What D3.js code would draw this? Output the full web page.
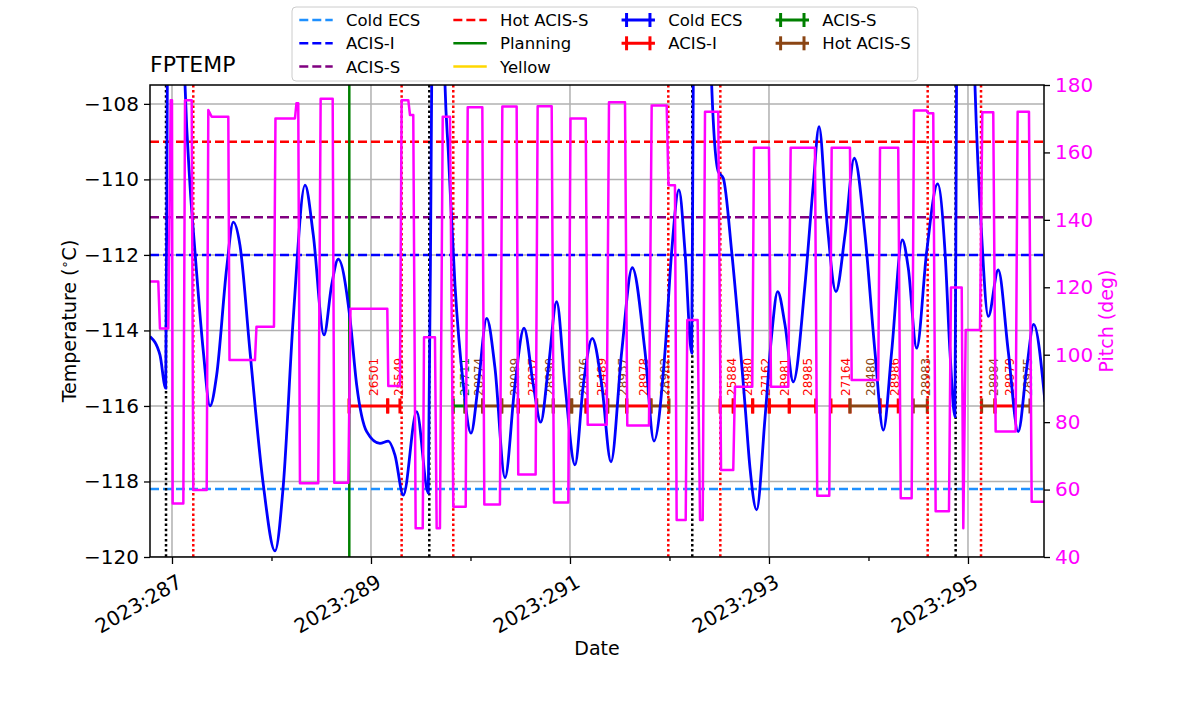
<!DOCTYPE html>
<html lang="en">
<head>
<meta charset="utf-8">
<title>FPTEMP</title>
<script src="https://d3js.org/d3.v7.min.js"></script>
<style>
  body { margin: 0; background: #fff; }
  svg, svg text { font-family: "DejaVu Sans", sans-serif; }
</style>
</head>
<body>
<script>
// ---- data ----
const dateTicks = [287, 289, 291, 293, 295];
const dateMinor = [288, 290, 292, 294];
const tempTicks = [-120, -118, -116, -114, -112, -110, -108];
const pitchTicks = [40, 60, 80, 100, 120, 140, 160, 180];

// FPTEMP model (day of 2023, degC)
const tempTimes = [286.779, 286.879, 286.937, 286.953, 287.04, 287.131, 287.181, 287.231, 287.315, 287.382,
  287.449, 287.550, 287.616, 287.683, 287.784, 287.918, 288.035, 288.119, 288.219, 288.337,
  288.420, 288.528, 288.605, 288.671, 288.789, 288.856, 288.957, 289.090, 289.174, 289.241,
  289.325, 289.459, 289.576, 289.610, 289.673, 289.744, 289.777, 289.844, 289.928, 290.005,
  290.078, 290.163, 290.246, 290.347, 290.447, 290.538, 290.631, 290.706, 290.782, 290.866,
  290.950, 291.050, 291.134, 291.224, 291.319, 291.412, 291.520, 291.626, 291.754, 291.844,
  291.955, 292.022, 292.095, 292.156, 292.223, 292.239, 292.33, 292.424, 292.490, 292.541,
  292.625, 292.759, 292.809, 292.876, 292.960, 293.027, 293.087, 293.161, 293.244, 293.362,
  293.445, 293.503, 293.580, 293.673, 293.764, 293.857, 293.965, 294.065, 294.149, 294.233,
  294.340, 294.400, 294.484, 294.585, 294.695, 294.769, 294.819, 294.869, 294.885, 294.97,
  295.070, 295.137, 295.204, 295.304, 295.405, 295.505, 295.590, 295.660, 295.774];
const tempValues = [-114.16, -114.65, -115.53, -107.5, -95, -107.5, -110.15, -111.91, -114.56, -116.0,
  -115.18, -112.34, -111.13, -111.74, -114.56, -118.09, -119.84, -118.09, -113.67, -110.15,
  -111.47, -114.12, -112.79, -112.11, -113.68, -115.44, -116.68, -116.99, -116.93, -117.30,
  -118.36, -116.15, -118.31, -107.5, -95, -107.5, -109.26, -112.79, -115.44, -116.72,
  -115.44, -113.68, -114.99, -117.90, -115.44, -113.94, -115.44, -116.43, -115.0, -113.24,
  -115.44, -117.56, -115.44, -114.21, -115.44, -117.48, -114.56, -112.34, -114.56, -116.93,
  -114.56, -111.91, -110.28, -111.91, -114.60, -107.5, -95, -107.5, -109.79, -109.97,
  -111.91, -115.97, -117.64, -118.75, -116.32, -114.12, -112.97, -113.85, -115.36, -112.79,
  -110.15, -108.60, -111.03, -112.97, -111.47, -109.44, -111.47, -114.56, -116.64, -114.56,
  -111.60, -112.35, -114.47, -111.91, -110.12, -111.91, -114.56, -116.28, -107.5, -95,
  -107.5, -111.47, -113.63, -112.40, -114.56, -116.68, -115.0, -113.84, -115.89];

// Pitch (deg)
const pitchTimes = [286.779, 286.862, 286.879, 286.963, 286.987, 287.000, 287.007, 287.114, 287.131, 287.198,
  287.214, 287.349, 287.365, 287.399, 287.566, 287.578, 287.834, 287.849, 288.025, 288.040,
  288.236, 288.251, 288.269, 288.286, 288.470, 288.494, 288.615, 288.631, 288.772, 288.794,
  289.164, 289.174, 289.291, 289.308, 289.375, 289.392, 289.425, 289.449, 289.520, 289.533,
  289.643, 289.660, 289.693, 289.721, 289.794, 289.827, 289.952, 289.972, 290.119, 290.139,
  290.296, 290.320, 290.464, 290.480, 290.655, 290.675, 290.816, 290.839, 290.983, 291.005,
  291.158, 291.178, 291.369, 291.392, 291.553, 291.576, 291.794, 291.821, 291.972, 291.990,
  292.055, 292.072, 292.163, 292.179, 292.283, 292.307, 292.334, 292.357, 292.490, 292.518,
  292.641, 292.658, 292.832, 292.849, 293.000, 293.020, 293.194, 293.218, 293.462, 293.485,
  293.606, 293.630, 293.814, 293.831, 294.098, 294.116, 294.299, 294.324, 294.434, 294.457,
  294.585, 294.601, 294.651, 294.675, 294.809, 294.829, 294.937, 294.953, 294.977, 295.121,
  295.144, 295.254, 295.278, 295.479, 295.499, 295.613, 295.640, 295.774];
const pitchValues = [121.7, 121.7, 107.8, 107.8, 175.5, 175.5, 55.9, 55.9, 175.5, 175.5,
  59.9, 59.9, 172.6, 170.6, 170.6, 98.4, 98.4, 108.3, 108.3, 170.1,
  170.1, 174.6, 174.6, 61.9, 61.9, 175.9, 175.9, 62.0, 62.0, 113.6,
  113.6, 90.7, 90.7, 175.5, 175.5, 171.1, 171.1, 48.5, 48.5, 105.2,
  105.2, 48.5, 48.5, 170.6, 170.6, 54.9, 54.9, 173.4, 173.4, 55.6,
  55.6, 173.6, 173.6, 64.5, 64.5, 173.7, 173.7, 56.2, 56.2, 170.1,
  170.1, 79.2, 79.2, 174.9, 174.9, 79.0, 79.0, 173.9, 173.9, 150.3,
  150.3, 51.0, 51.0, 110.3, 110.3, 51.0, 51.0, 172.1, 172.1, 65.8,
  65.8, 90.5, 90.5, 161.4, 161.4, 90.5, 90.5, 161.4, 161.4, 58.2,
  58.2, 161.4, 161.4, 92.5, 92.5, 161.4, 161.4, 57.4, 57.4, 172.4,
  172.4, 171.6, 171.6, 53.6, 53.6, 119.9, 119.9, 48.5, 107.3, 107.3,
  171.9, 171.9, 77.2, 77.2, 172.1, 172.1, 56.4, 56.4];

// observation intervals
const obsStart = [288.779, 289.168, 289.827, 289.945, 290.123, 290.314, 290.480, 290.665, 290.832, 291.017,
  291.161, 291.379, 291.570, 291.814, 292.508, 292.641, 292.836, 293.003, 293.204, 293.623,
  293.814, 294.116, 294.450, 295.137, 295.271, 295.472];
const obsStop = [289.168, 289.291, 289.945, 290.123, 290.314, 290.480, 290.665, 290.832, 291.017, 291.161,
  291.379, 291.570, 291.814, 291.995, 292.641, 292.836, 293.003, 293.204, 293.469, 293.814,
  294.116, 294.299, 294.591, 295.271, 295.472, 295.623];
const obsIds = ["26501", "26549", "27711", "28974", "", "28089", "27037", "28990", "", "28976",
  "25489", "28937", "28978", "28982", "25884", "28980", "27162", "28981", "28985", "27164",
  "28480", "28986", "28983", "28984", "28979", "28975"];
const obsModes = ["ACIS-I", "ACIS-I", "ACIS-S", "Hot ACIS-S", "Hot ACIS-S", "Hot ACIS-S", "ACIS-I", "Hot ACIS-S", "Hot ACIS-S", "Hot ACIS-S",
  "ACIS-I", "Hot ACIS-S", "ACIS-I", "Hot ACIS-S", "ACIS-I", "ACIS-I", "ACIS-I", "ACIS-I", "ACIS-I", "ACIS-I",
  "Hot ACIS-S", "ACIS-I", "Hot ACIS-S", "Hot ACIS-S", "ACIS-I", "Hot ACIS-S"];
const obsLevel = -116;

// limits
const limitNames = ["Cold ECS", "ACIS-I", "ACIS-S", "Hot ACIS-S"];
const limitValues = [-118.2, -112, -111, -109];

const planningTime = 288.782;
const blackTimes = [286.940, 289.586, 292.229, 294.876];
const redTimes = [287.214, 289.308, 289.827, 291.988, 292.511, 294.595, 295.131];

// ---- styles ----
const FONT = "DejaVu Sans";
const TICK_FS = 20;
const limitColor = { "Cold ECS": "#1e90ff", "ACIS-I": "#0000ff", "ACIS-S": "#800080", "Hot ACIS-S": "#ff0000" };
const obsColor = { "Cold ECS": "#0000ff", "ACIS-I": "#ff0000", "ACIS-S": "#008000", "Hot ACIS-S": "#8b4513" };

const W = 1200, H = 714;
const m = { left: 150, right: 1044, top: 85, bottom: 557 };

const svg = d3.select("body").append("svg").attr("width", W).attr("height", H)
  .attr("font-family", FONT);

const x = d3.scaleLinear().domain([286.779, 295.764]).range([m.left, m.right]);
const y = d3.scaleLinear().domain([-120, -107.5]).range([m.bottom, m.top]);
const yp = d3.scaleLinear().domain([40, 180]).range([m.bottom, m.top]);

svg.append("clipPath").attr("id", "plot")
  .append("rect").attr("x", m.left).attr("y", m.top)
  .attr("width", m.right - m.left).attr("height", m.bottom - m.top);

const plot = svg.append("g").attr("clip-path", "url(#plot)");

// grid
plot.selectAll(".gx").data(dateTicks).enter().append("line")
  .attr("x1", d => x(d)).attr("x2", d => x(d)).attr("y1", m.top).attr("y2", m.bottom)
  .attr("stroke", "#b0b0b0").attr("stroke-width", 1.5);
plot.selectAll(".gy").data(tempTicks).enter().append("line")
  .attr("x1", m.left).attr("x2", m.right).attr("y1", d => y(d)).attr("y2", d => y(d))
  .attr("stroke", "#b0b0b0").attr("stroke-width", 1.5);

// limit lines
plot.selectAll(".lim").data(limitNames).enter().append("line")
  .attr("x1", m.left).attr("x2", m.right)
  .attr("y1", (d, i) => y(limitValues[i])).attr("y2", (d, i) => y(limitValues[i]))
  .attr("stroke", d => limitColor[d]).attr("stroke-width", 2.5)
  .attr("stroke-dasharray", "9,4");

// observation segments
const obs = plot.append("g");
obsIds.forEach((id, i) => {
  const c = obsColor[obsModes[i]];
  const x0 = x(obsStart[i]), x1 = x(obsStop[i]), yy = y(obsLevel);
  obs.append("line").attr("x1", x0).attr("x2", x1).attr("y1", yy).attr("y2", yy)
    .attr("stroke", c).attr("stroke-width", 3);
  [x0, x1].forEach(xx => obs.append("line").attr("x1", xx).attr("x2", xx)
    .attr("y1", yy - 7.5).attr("y2", yy + 7.5).attr("stroke", c).attr("stroke-width", 3));
  if (id) {
    const xm = (x0 + x1) / 2 + 9.5;
    obs.append("text").attr("transform", `translate(${xm},396) rotate(-90)`)
      .attr("font-size", 12).attr("fill", c).text(id);
  }
});

// vertical markers
plot.selectAll(".vb").data(blackTimes).enter().append("line")
  .attr("x1", d => x(d)).attr("x2", d => x(d)).attr("y1", m.top).attr("y2", m.bottom)
  .attr("stroke", "#000").attr("stroke-width", 2.5).attr("stroke-dasharray", "2.5,2.6");
plot.selectAll(".vr").data(redTimes).enter().append("line")
  .attr("x1", d => x(d)).attr("x2", d => x(d)).attr("y1", m.top).attr("y2", m.bottom)
  .attr("stroke", "#ff0000").attr("stroke-width", 2.5).attr("stroke-dasharray", "2.5,2.6");
plot.append("line")
  .attr("x1", x(planningTime)).attr("x2", x(planningTime)).attr("y1", m.top).attr("y2", m.bottom)
  .attr("stroke", "#008000").attr("stroke-width", 2.5);

// temperature
const tempLine = d3.line().x(d => x(d[0])).y(d => y(d[1])).curve(d3.curveMonotoneX);
plot.append("path").datum(tempTimes.map((t, i) => [t, tempValues[i]]))
  .attr("d", tempLine).attr("fill", "none").attr("stroke", "#0000ff").attr("stroke-width", 2.8);

// pitch (twin axis)
const pitchLine = d3.line().x(d => x(d[0])).y(d => yp(d[1]));
plot.append("path").datum(pitchTimes.map((t, i) => [t, pitchValues[i]]))
  .attr("d", pitchLine).attr("fill", "none").attr("stroke", "#ff00ff").attr("stroke-width", 2.5)
  .attr("stroke-linejoin", "round");

// frame
svg.append("rect").attr("x", m.left).attr("y", m.top)
  .attr("width", m.right - m.left).attr("height", m.bottom - m.top)
  .attr("fill", "none").attr("stroke", "#000").attr("stroke-width", 1.5);

// axes
const fmtMinus = d => String(d).replace("-", "\u2212");

const xAxis = svg.append("g").attr("transform", `translate(0,${m.bottom})`)
  .call(d3.axisBottom(x).tickValues(dateTicks).tickSize(7).tickFormat(d => "2023:" + d));
xAxis.selectAll("text")
  .attr("text-anchor", "end").attr("dy", null).attr("y", null)
  .attr("transform", "translate(11,29) rotate(-30)");
svg.append("g").attr("transform", `translate(0,${m.bottom})`)
  .call(d3.axisBottom(x).tickValues(dateMinor).tickSize(4).tickFormat(""));

const yAxis = svg.append("g").attr("transform", `translate(${m.left},0)`)
  .call(d3.axisLeft(y).tickValues(tempTicks).tickSize(6).tickPadding(5).tickFormat(fmtMinus));

const ypAxis = svg.append("g").attr("transform", `translate(${m.right},0)`)
  .call(d3.axisRight(yp).tickValues(pitchTicks).tickSize(6).tickPadding(5));
ypAxis.selectAll("text").attr("fill", "#ff00ff");

[xAxis, yAxis, ypAxis].forEach(a => a.attr("font-family", FONT).attr("font-size", TICK_FS)
  .selectAll("text").style("font-size", TICK_FS + "px"));
svg.selectAll(".domain").remove();
svg.selectAll(".tick line").attr("stroke", "#000").attr("stroke-width", 1.3);

// labels
svg.append("text").attr("x", m.left).attr("y", 72).attr("font-size", 22).text("FPTEMP");
svg.append("text").attr("x", (m.left + m.right) / 2).attr("y", 655)
  .attr("text-anchor", "middle").attr("font-size", 19).text("Date");
const tl = svg.append("text").attr("transform", `translate(76,${(m.top + m.bottom) / 2}) rotate(-90)`)
  .attr("text-anchor", "middle").attr("font-size", 19);
tl.append("tspan").text("Temperature (");
tl.append("tspan").attr("dy", -7).attr("font-size", 13).text("\u2218");
tl.append("tspan").attr("dy", 7).text("C)");
svg.append("text").attr("transform", `translate(1113,${(m.top + m.bottom) / 2}) rotate(-90)`)
  .attr("text-anchor", "middle").attr("font-size", 19).attr("fill", "#ff00ff").text("Pitch (deg)");

// legend
const legendCols = [
  limitNames.slice(0, 3).map(n => ({ label: n, color: limitColor[n], kind: "dash" })),
  [{ label: "Hot ACIS-S", color: limitColor["Hot ACIS-S"], kind: "dash" },
   { label: "Planning", color: "#008000", kind: "solid" },
   { label: "Yellow", color: "#ffd700", kind: "solid" }],
  ["Cold ECS", "ACIS-I"].map(n => ({ label: n, color: obsColor[n], kind: "err" })),
  ["ACIS-S", "Hot ACIS-S"].map(n => ({ label: n, color: obsColor[n], kind: "err" }))
];
const lg = svg.append("g");
const box = lg.append("rect").attr("x", 292).attr("y", 7).attr("height", 74).attr("rx", 4)
  .attr("fill", "#fff").attr("fill-opacity", 0.8).attr("stroke", "#cccccc").attr("stroke-width", 1);
let cx = 299.3;
const hl = 33.4, hp = 13.3, colGap = 33;
legendCols.forEach(col => {
  let maxW = 0;
  col.forEach((e, r) => {
    const yy = 20 + r * 23.3;
    if (e.kind === "err") {
      lg.append("line").attr("x1", cx).attr("x2", cx + hl).attr("y1", yy).attr("y2", yy)
        .attr("stroke", e.color).attr("stroke-width", 3);
      [cx + 5, cx + hl - 5].forEach(xx => lg.append("line").attr("x1", xx).attr("x2", xx)
        .attr("y1", yy - 7).attr("y2", yy + 7).attr("stroke", e.color).attr("stroke-width", 3));
    } else {
      lg.append("line").attr("x1", cx).attr("x2", cx + hl).attr("y1", yy).attr("y2", yy)
        .attr("stroke", e.color).attr("stroke-width", 2.5)
        .attr("stroke-dasharray", e.kind === "dash" ? "9,4" : null);
    }
    const t = lg.append("text").attr("x", cx + hl + hp).attr("y", yy).attr("dy", "0.36em")
      .attr("font-size", 16.5).text(e.label);
    maxW = Math.max(maxW, t.node().getComputedTextLength());
  });
  cx += hl + hp + maxW + colGap;
});
box.attr("width", cx - colGap + 7 - 292);
</script>
</body>
</html>
